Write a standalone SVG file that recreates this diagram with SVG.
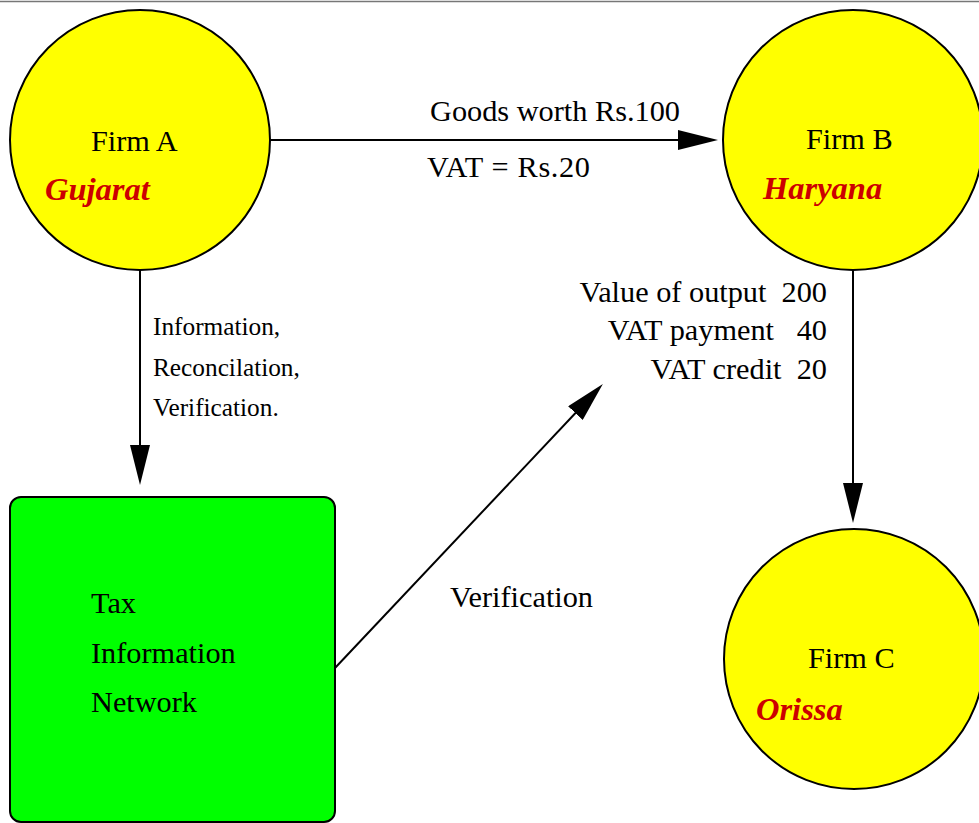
<svg xmlns="http://www.w3.org/2000/svg" width="979" height="823" viewBox="0 0 979 823">
<style>
.firm{fill:#ffff00;stroke:#000;stroke-width:2}
.box{fill:#00ff00;stroke:#000;stroke-width:2}
.t{font-family:"Liberation Serif","Times New Roman",serif;font-size:30.3px;fill:#000}
.s{font-family:"Liberation Serif","Times New Roman",serif;font-size:25.3px;fill:#000}
.st{font-family:"Liberation Serif","Times New Roman",serif;font-size:32.5px;font-weight:bold;font-style:italic;fill:#cc0000}
.c{stroke:#000;stroke-width:2;fill:none;marker-end:url(#ah)}
</style>
<defs>
<marker id="ah" markerUnits="userSpaceOnUse" markerWidth="40" markerHeight="20" refX="30" refY="10" orient="auto">
<path d="M0,0 L40,10 L0,20 z" fill="#000"/>
</marker>
</defs>
<rect width="979" height="823" fill="#fff"/>
<line x1="0" y1="1.5" x2="979" y2="1.5" stroke="#777" stroke-width="1.5"/>
<g id="connectors">
<line class="c" x1="270" y1="140" x2="708" y2="140"/>
<line class="c" x1="140" y1="270" x2="140" y2="475"/>
<line class="c" x1="853" y1="270" x2="853" y2="513"/>
<line class="c" x1="335" y1="668" x2="596" y2="391.3"/>
</g>
<g id="labels">
<text class="t" x="430" y="121">Goods worth Rs.100</text>
<text class="t" x="427" y="177" textLength="163">VAT = Rs.20</text>
<text class="s" x="153" y="335">Information,</text>
<text class="s" x="153" y="376">Reconcilation,</text>
<text class="s" x="153" y="416">Verification.</text>
<text class="t" x="827" y="302" text-anchor="end" style="white-space:pre">Value of output  200</text>
<text class="t" x="827" y="340" text-anchor="end" style="white-space:pre">VAT payment   40</text>
<text class="t" x="827" y="379" text-anchor="end" style="white-space:pre">VAT credit  20</text>
<text class="t" x="450" y="607">Verification</text>
</g>
<g id="firmA">
<circle class="firm" cx="140" cy="140" r="130"/>
<text class="t" x="91" y="151">Firm A</text>
<text class="st" x="45" y="200">Gujarat</text>
</g>
<g id="firmB">
<circle class="firm" cx="853" cy="140" r="130"/>
<text class="t" x="806" y="149">Firm B</text>
<text class="st" x="763" y="199">Haryana</text>
</g>
<g id="firmC">
<circle class="firm" cx="854" cy="659" r="130"/>
<text class="t" x="808" y="668">Firm C</text>
<text class="st" x="756" y="720">Orissa</text>
</g>
<g id="tin">
<rect class="box" x="10" y="497" width="325" height="325" rx="11" ry="11"/>
<text class="t" x="91" y="613">Tax</text>
<text class="t" x="91" y="663">Information</text>
<text class="t" x="91" y="712">Network</text>
</g>
</svg>
